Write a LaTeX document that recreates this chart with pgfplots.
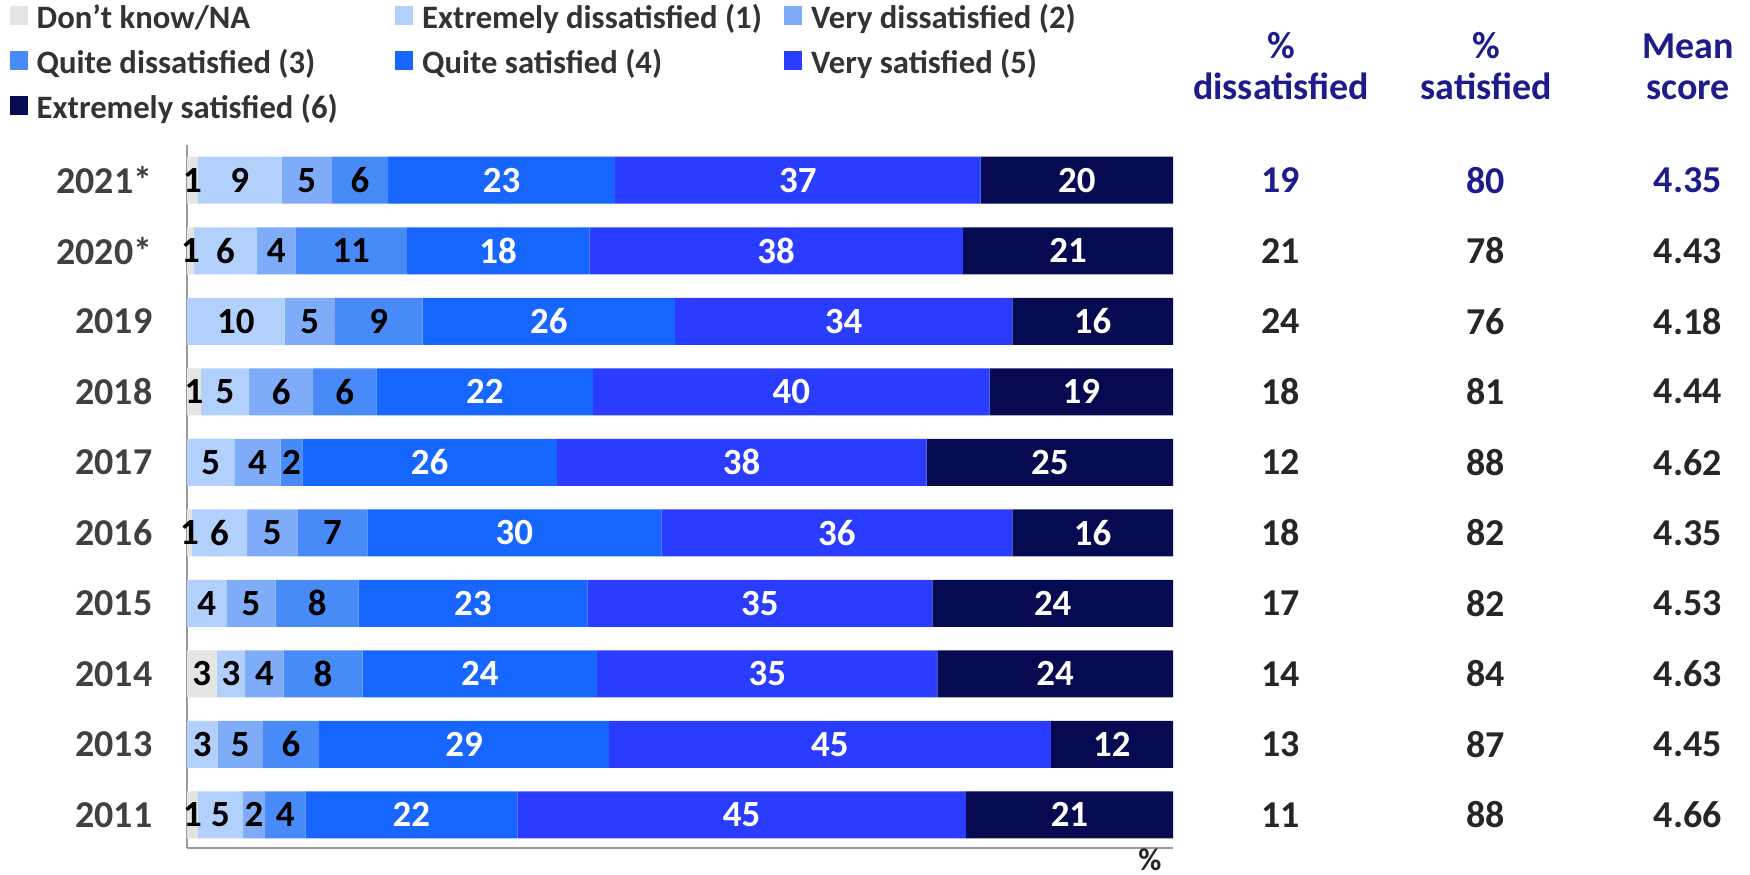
\documentclass[border=0pt]{standalone}
\usepackage{pgfplots}
\pgfplotsset{compat=1.18}
\usepackage{fontspec}
\setmainfont{Carlito}

\definecolor{cDK}{RGB}{228,228,228}
\definecolor{cED}{RGB}{178,208,252}
\definecolor{cVD}{RGB}{126,172,248}
\definecolor{cQD}{RGB}{72,138,248}
\definecolor{cQS}{RGB}{22,102,255}
\definecolor{cVS}{RGB}{42,60,255}
\definecolor{cES}{RGB}{6,10,80}
\definecolor{navy}{RGB}{28,28,140}
\definecolor{txt}{RGB}{38,38,38}

\newcommand\bigf{\fontsize{10.8}{11.7}\selectfont\bfseries}
\newcommand\barf{\fontsize{10.5}{12}\selectfont\bfseries}
\newcommand\legf{\fontsize{9.3}{10}\selectfont\bfseries}

\begin{document}
\begin{tikzpicture}[x=1mm,y=1mm]
\useasboundingbox (0,0) rectangle (175,87.5);

% stacked bars
\begin{axis}[
  at={(18.7mm,2.7mm)}, anchor=south west,
  scale only axis, width=98.6mm, height=70.3mm,
  xbar stacked, bar width=4.7mm,
  xmin=0, xmax=100, ymin=-0.47, ymax=9.5,
  axis x line*=bottom, axis y line*=left,
  axis line style={draw=black!40, line width=0.6pt},
  xtick=\empty, ytick=\empty,
  point meta=explicit,
  /pgf/number format/assume math mode=true,
  nodes near coords={\pgfmathfloatifflags{\pgfplotspointmeta}{0}{}{\pgfmathprintnumber{\pgfplotspointmeta}}},
  every node near coord/.append style={font=\barf},
  legend columns=3, legend cell align=left,
  legend image code/.code={\fill[#1] (0mm,-0.5mm) rectangle (1.8mm,1.35mm);},
  legend style={at={(axis description cs:-0.1805,1.203)}, anchor=north west,
    draw=none, fill=none, font=\legf, text=black!80, inner sep=0pt, row sep=1.1mm,
    nodes={inner xsep=0.9mm, inner ysep=0pt, text height=2.6mm, text depth=0.8mm},
    /tikz/every even column/.append style={column sep=0pt}},
]
\addplot[fill=cDK, draw=none, every node near coord/.append style={text=black}] coordinates {
 (1.1,0)[1] (0,1)[0] (3.0,2)[3] (0,3)[0] (0.5,4)[1] (0,5)[0] (1.4,6)[1] (0,7)[0] (0.7,8)[1] (1.1,9)[1]};
\addlegendentry{\makebox[34.95mm][l]{Don't know/NA}}
\addplot[fill=cED, draw=none, every node near coord/.append style={text=black}] coordinates {
 (4.6,0)[5] (3.1,1)[3] (2.9,2)[3] (4.0,3)[4] (5.6,4)[6] (4.8,5)[5] (4.9,6)[5] (9.9,7)[10] (6.4,8)[6] (8.5,9)[9]};
\addlegendentry{\makebox[35.3mm][l]{Extremely dissatisfied (1)}}
\addplot[fill=cVD, draw=none, every node near coord/.append style={text=black}] coordinates {
 (2.2,0)[2] (4.6,1)[5] (3.9,2)[4] (5.0,3)[5] (5.1,4)[5] (4.7,5)[4] (6.5,6)[6] (5.1,7)[5] (3.9,8)[4] (5.1,9)[5]};
\addlegendentry{Very dissatisfied (2)}
\addplot[fill=cQD, draw=none, every node near coord/.append style={text=black}] coordinates {
 (4.1,0)[4] (5.7,1)[6] (8.0,2)[8] (8.4,3)[8] (7.1,4)[7] (2.2,5)[2] (6.4,6)[6] (8.9,7)[9] (11.3,8)[11] (5.7,9)[6]};
\addlegendentry{\makebox[34.95mm][l]{Quite dissatisfied (3)}}
\addplot[fill=cQS, draw=none, every node near coord/.append style={text=white}] coordinates {
 (21.5,0)[22] (29.4,1)[29] (23.8,2)[24] (23.2,3)[23] (29.8,4)[30] (25.8,5)[26] (22.0,6)[22] (25.6,7)[26] (18.5,8)[18] (23.0,9)[23]};
\addlegendentry{\makebox[35.3mm][l]{Quite satisfied (4)}}
\addplot[fill=cVS, draw=none, every node near coord/.append style={text=white}] coordinates {
 (45.5,0)[45] (44.8,1)[45] (34.5,2)[35] (35.0,3)[35] (35.6,4)[36] (37.5,5)[38] (40.2,6)[40] (34.2,7)[34] (37.9,8)[38] (37.1,9)[37]};
\addlegendentry{Very satisfied (5)}
\addplot[fill=cES, draw=none, every node near coord/.append style={text=white}] coordinates {
 (21.0,0)[21] (12.4,1)[12] (23.9,2)[24] (24.4,3)[24] (16.3,4)[16] (25.0,5)[25] (18.6,6)[19] (16.3,7)[16] (21.3,8)[21] (19.5,9)[20]};
\addlegendentry{\makebox[34.95mm][l]{Extremely satisfied (6)}}
\end{axis}

% year labels and summary columns
\begin{axis}[
  at={(18.7mm,2.7mm)}, anchor=south west,
  scale only axis, width=98.6mm, height=70.3mm,
  xmin=0, xmax=100, ymin=-0.47, ymax=9.5,
  hide axis, clip=false,
  point meta=explicit symbolic,
  nodes near coords, nodes near coords align={center},
  every node near coord/.append style={font=\bigf, anchor=center},
]
\addplot[draw=none, mark=none, every node near coord/.append style={text=black!75, anchor=east, inner xsep=0pt}] coordinates {
 (-3.45,0)[2011] (-3.45,1)[2013] (-3.45,2)[2014] (-3.45,3)[2015] (-3.45,4)[2016] (-3.45,5)[2017] (-3.45,6)[2018] (-3.45,7)[2019] (-3.45,8)[2020*] (-3.45,9)[2021*]};
\addplot[draw=none, mark=none, every node near coord/.append style={text=txt}] coordinates {
 (110.95,0)[11] (110.95,1)[13] (110.95,2)[14] (110.95,3)[17] (110.95,4)[18] (110.95,5)[12] (110.95,6)[18] (110.95,7)[24] (110.95,8)[21]};
\addplot[draw=none, mark=none, every node near coord/.append style={text=txt}] coordinates {
 (131.7,0)[88] (131.7,1)[87] (131.7,2)[84] (131.7,3)[82] (131.7,4)[82] (131.7,5)[88] (131.7,6)[81] (131.7,7)[76] (131.7,8)[78]};
\addplot[draw=none, mark=none, every node near coord/.append style={text=txt}] coordinates {
 (152.2,0)[4.66] (152.2,1)[4.45] (152.2,2)[4.63] (152.2,3)[4.53] (152.2,4)[4.35] (152.2,5)[4.62] (152.2,6)[4.44] (152.2,7)[4.18] (152.2,8)[4.43]};
\addplot[draw=none, mark=none, every node near coord/.append style={text=navy}] coordinates {
 (110.95,9)[19] (131.7,9)[80] (152.2,9)[4.35]};
\end{axis}

\node[align=center, font=\bigf, text=navy] at (128.1,80.85) {\%\\dissatisfied};
\node[align=center, font=\bigf, text=navy] at (148.6,80.85) {\%\\satisfied};
\node[align=center, font=\bigf, text=navy] at (168.8,80.85) {Mean\\score};
\node[font=\fontsize{9}{10}\selectfont\bfseries, text=txt, inner sep=0pt] at (115.0,1.55) {\%};
\end{tikzpicture}
\end{document}
